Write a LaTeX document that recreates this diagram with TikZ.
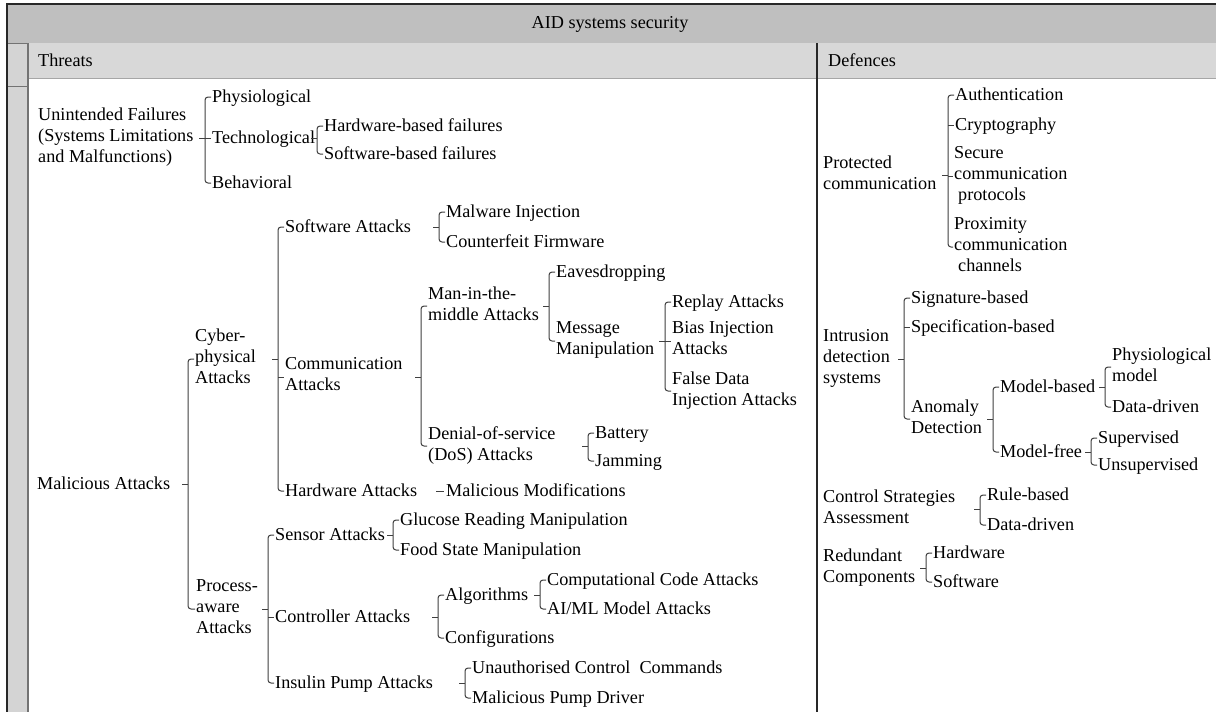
\documentclass[tikz,border=0pt]{standalone}
\usepackage{fontspec}
\setmainfont{Liberation Serif}
\usetikzlibrary{calc}
\newcommand\lstrut{\rule[-5.5pt]{0pt}{21pt}}
\newcommand\brk[3]{%
  \draw[conn, rounded corners=3pt] ([xshift=-1pt]#2.west) -- ($(#2.west)+(-7pt,0)$) -- ($(#2.west |- #3.west)+(-7pt,0)$) -- ([xshift=-1pt]#3.west);
  \draw[conn] ($(#2.west |- #1.east)+(-13pt,0)$) -- ($(#2.west |- #1.east)+(-7pt,0)$);
}
\newcommand\midc[2]{%
  \draw[conn] ($(#1.west |- #2.west)+(-7pt,0)$) -- ([xshift=-1pt]#2.west);
}
\definecolor{hdrA}{RGB}{191,191,191}
\definecolor{hdrB}{RGB}{216,216,216}
\definecolor{stripc}{RGB}{212,212,212}
\definecolor{framec}{RGB}{40,40,40}
\tikzset{
  lbl/.style={anchor=west, inner sep=0pt, align=left, font=\fontsize{18.2}{21}\selectfont,
    execute at begin node=\lstrut, execute at end node=\lstrut},
  conn/.style={draw=black!75, line width=1pt},
}
\begin{document}
\begin{tikzpicture}[x=1pt, y=-1pt]
\useasboundingbox (0,0) rectangle (1216,712);
% frame
\fill[white] (0,0) rectangle (1216,712);
\fill[hdrA] (7,4) rectangle (1216,43);
\fill[hdrB] (7,43) rectangle (1216,78);
\fill[stripc] (7,43) rectangle (28,712);
\draw[black!35, line width=1pt] (28,78) -- (1216,78);
\draw[black!55, line width=1pt] (7,86) -- (28,86);
\draw[black!55, line width=1pt] (7,43) -- (28,43);
\draw[framec, line width=1.2pt] (7,712) -- (7,4) -- (1216,4);
\draw[black!55, line width=1.2pt] (28,43) -- (28,712);
\draw[framec, line width=1.2pt] (817,43) -- (817,712);
% headers
\node[lbl, anchor=center] (title) at (610,23) {AID systems security};
\node[lbl] (threats) at (38,61) {Threats};
\node[lbl] (defences) at (828,61) {Defences};
% threats tree
\node[lbl] (uf) at (38,138) {Unintended Failures\\(Systems Limitations\\and Malfunctions)};
\node[lbl] (phys) at (212,97) {Physiological};
\node[lbl] (tech) at (212,138) {Technological};
\node[lbl] (behav) at (212,183) {Behavioral};
\node[lbl] (hwf) at (324,126) {Hardware-based failures};
\node[lbl] (swf) at (324,154) {Software-based failures};
\node[lbl] (mal) at (37,484) {Malicious Attacks};
\node[lbl] (cyber) at (195,359) {Cyber-\\physical\\Attacks};
\node[lbl] (proc) at (196,609) {Process-\\aware\\Attacks};
\node[lbl] (swa) at (285,227) {Software Attacks};
\node[lbl] (comm) at (285,377) {Communication\\Attacks};
\node[lbl] (hwa) at (285,491) {Hardware Attacks};
\node[lbl] (malw) at (446,212) {Malware Injection};
\node[lbl] (cfw) at (446,242) {Counterfeit Firmware};
\node[lbl] (mitm) at (428,306) {Man-in-the-\\middle Attacks};
\node[lbl] (dos) at (428,446) {Denial-of-service\\(DoS) Attacks};
\node[lbl] (eav) at (556,272) {Eavesdropping};
\node[lbl] (msg) at (556,341) {Message\\Manipulation};
\node[lbl] (replay) at (672,302) {Replay Attacks};
\node[lbl] (bias) at (672,341) {Bias Injection\\Attacks};
\node[lbl] (fdi) at (672,391) {False Data\\Injection Attacks};
\node[lbl] (batt) at (595,433) {Battery};
\node[lbl] (jam) at (595,461) {Jamming};
\node[lbl] (malmod) at (446,491) {Malicious Modifications};
\node[lbl] (sensor) at (275,535) {Sensor Attacks};
\node[lbl] (ctrl) at (275,617) {Controller Attacks};
\node[lbl] (ins) at (275,683) {Insulin Pump Attacks};
\node[lbl] (gluc) at (400,520) {Glucose Reading Manipulation};
\node[lbl] (food) at (400,550) {Food State Manipulation};
\node[lbl] (algo) at (445,595) {Algorithms};
\node[lbl] (conf) at (445,638) {Configurations};
\node[lbl] (comp) at (547,580) {Computational Code Attacks};
\node[lbl] (aiml) at (547,609) {AI/ML Model Attacks};
\node[lbl] (unauth) at (472,668) {Unauthorised Control~ Commands};
\node[lbl] (mpd) at (472,698) {Malicious Pump Driver};
% defences tree
\node[lbl] (pc) at (823,175) {Protected\\communication};
\node[lbl] (auth) at (955,95) {Authentication};
\node[lbl] (crypt) at (955,125) {Cryptography};
\node[lbl] (scp) at (954,176) {Secure\\communication\\\hspace{4pt}protocols};
\node[lbl] (prox) at (954,247) {Proximity\\communication\\\hspace{4pt}channels};
\node[lbl] (ids) at (823,359) {Intrusion\\detection\\systems};
\node[lbl] (sig) at (911,298) {Signature-based};
\node[lbl] (spec) at (911,327) {Specification-based};
\node[lbl] (anom) at (911,419) {Anomaly\\Detection};
\node[lbl] (mb) at (1000,387) {Model-based};
\node[lbl] (mf) at (1000,452) {Model-free};
\node[lbl] (pm) at (1112,367) {Physiological\\model};
\node[lbl] (dd1) at (1112,407) {Data-driven};
\node[lbl] (sup) at (1098,438) {Supervised};
\node[lbl] (unsup) at (1098,465) {Unsupervised};
\node[lbl] (csa) at (823,509) {Control Strategies\\Assessment};
\node[lbl] (rule) at (987,495) {Rule-based};
\node[lbl] (dd2) at (987,525) {Data-driven};
\node[lbl] (rc) at (823,568) {Redundant\\Components};
\node[lbl] (hwr) at (933,553) {Hardware};
\node[lbl] (swr) at (933,582) {Software};
% connectors: threats
\brk{uf}{phys}{behav} \midc{phys}{tech}
\brk{tech}{hwf}{swf}
\brk{mal}{cyber}{proc}
\brk{cyber}{swa}{hwa} \midc{swa}{comm}
\brk{swa}{malw}{cfw}
\brk{comm}{mitm}{dos}
\brk{mitm}{eav}{msg}
\brk{msg}{replay}{fdi} \midc{replay}{bias}
\brk{dos}{batt}{jam}
\draw[conn] ([xshift=-10pt]malmod.west) -- ([xshift=-2pt]malmod.west);
\brk{proc}{sensor}{ins} \midc{sensor}{ctrl}
\brk{sensor}{gluc}{food}
\brk{ctrl}{algo}{conf}
\brk{algo}{comp}{aiml}
\brk{ins}{unauth}{mpd}
% connectors: defences
\brk{pc}{auth}{prox} \midc{auth}{crypt} \midc{auth}{scp}
\brk{ids}{sig}{anom} \midc{sig}{spec}
\brk{anom}{mb}{mf}
\brk{mb}{pm}{dd1}
\brk{mf}{sup}{unsup}
\brk{csa}{rule}{dd2}
\brk{rc}{hwr}{swr}
\end{tikzpicture}
\end{document}
